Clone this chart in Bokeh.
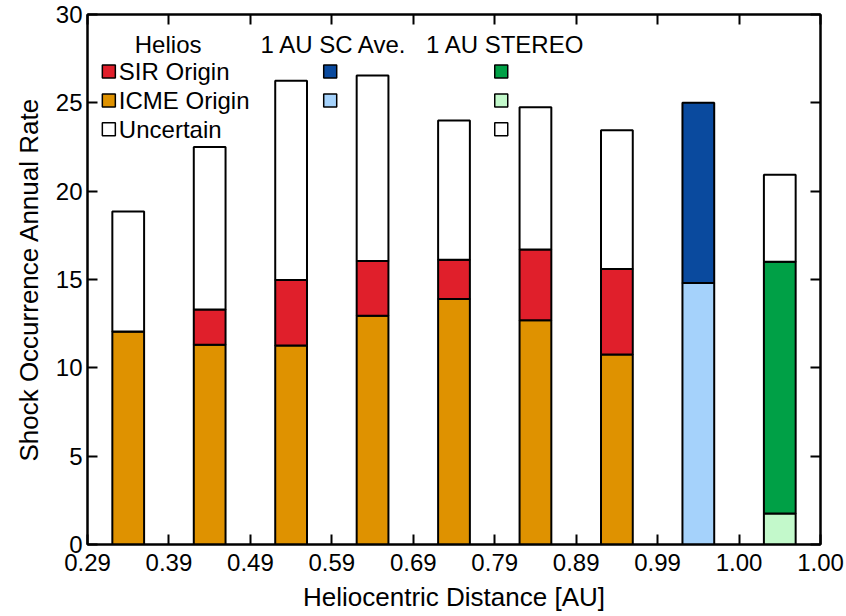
from bokeh.plotting import figure
from bokeh.models import FixedTicker, LinearAxis, Range1d, Label, ColumnDataSource
from bokeh.embed import file_html
from bokeh.resources import INLINE

# ---- data ----
tick_labels = ["0.29", "0.39", "0.49", "0.59", "0.69", "0.79", "0.89", "0.99", "1.00", "1.00"]
helios_icme = [12.05, 11.30, 11.27, 12.95, 13.90, 12.70, 10.75]
helios_sir = [0.00, 2.00, 3.70, 3.10, 2.22, 4.00, 4.85]
helios_unc = [6.80, 9.20, 11.28, 10.50, 7.88, 8.05, 7.85]
sc_icme = [14.80]
sc_sir = [10.20]
stereo_icme = [1.75]
stereo_sir = [14.25]
stereo_unc = [4.93]

RED = "#E01F2B"
ORANGE = "#DF9200"
DBLUE = "#0A4A9E"
LBLUE = "#A5D2FB"
GREEN = "#00A046"
LGREEN = "#C3F9CB"
FONT = "Liberation Sans"
LEG_FS = "24px"
AX_FS = "26px"

n_h = len(helios_icme)
x_helios = [i + 0.5 for i in range(n_h)]
x_sc = [n_h + 0.5]
x_st = [n_h + 1.5]

p = figure(width=846, height=616, output_backend="svg", toolbar_location=None,
           x_range=Range1d(0, len(tick_labels) - 1), y_range=Range1d(0, 30),
           min_border_left=87, min_border_right=26, min_border_top=14, min_border_bottom=72)
p.grid.visible = False
p.outline_line_color = "black"
p.outline_line_width = 2
p.background_fill_color = "white"
p.border_fill_color = "white"

BW = 0.39
src_h = ColumnDataSource(dict(x=x_helios, icme=helios_icme, sir=helios_sir, unc=helios_unc))
p.vbar_stack(["icme", "sir", "unc"], x="x", width=BW, source=src_h,
             fill_color=[ORANGE, RED, "white"], line_color="black", line_width=2)
src_sc = ColumnDataSource(dict(x=x_sc, icme=sc_icme, sir=sc_sir))
p.vbar_stack(["icme", "sir"], x="x", width=BW, source=src_sc,
             fill_color=[LBLUE, DBLUE], line_color="black", line_width=2)
src_st = ColumnDataSource(dict(x=x_st, icme=stereo_icme, sir=stereo_sir, unc=stereo_unc))
p.vbar_stack(["icme", "sir", "unc"], x="x", width=BW, source=src_st,
             fill_color=[LGREEN, GREEN, "white"], line_color="black", line_width=2)

# ---- axes ----
xticks = list(range(len(tick_labels)))
yticks = [0, 5, 10, 15, 20, 25, 30]
p.xaxis.ticker = FixedTicker(ticks=xticks)
p.xaxis.major_label_overrides = {i: t for i, t in enumerate(tick_labels)}
p.yaxis.ticker = FixedTicker(ticks=yticks)
p.xaxis.axis_label = "Heliocentric Distance [AU]"
p.yaxis.axis_label = "Shock Occurrence Annual Rate"
for ax in (p.xaxis[0], p.yaxis[0]):
    ax.axis_line_width = 2
    ax.major_tick_line_width = 2
    ax.major_tick_in = 10
    ax.major_tick_out = 0
    ax.minor_tick_line_color = None
    ax.major_label_text_font = FONT
    ax.major_label_text_font_size = "24px"
    ax.major_label_text_color = "black"
    ax.axis_label_text_font = FONT
    ax.axis_label_text_font_size = AX_FS
    ax.axis_label_text_font_style = "normal"
    ax.axis_label_text_color = "black"
p.xaxis.major_label_standoff = 9
p.xaxis.axis_label_standoff = 8
p.yaxis.major_label_standoff = 5
p.yaxis.axis_label_standoff = 9

# tick-only frame axes (top and right), labels blanked
top = LinearAxis(ticker=FixedTicker(ticks=xticks),
                 major_label_overrides={i: "" for i in xticks})
right = LinearAxis(ticker=FixedTicker(ticks=yticks),
                   major_label_overrides={v: "" for v in yticks})
for ax in (top, right):
    ax.axis_line_width = 2
    ax.major_tick_line_width = 2
    ax.major_tick_in = 10
    ax.major_tick_out = 0
    ax.minor_tick_line_color = None
    ax.major_label_text_font_size = "1px"
    ax.major_label_standoff = 0
p.add_layout(top, "above")
p.add_layout(right, "right")

# ---- custom legend ----
headers = ["Helios", "1 AU SC Ave.", "1 AU STEREO"]
header_x = [0.99, 3.03, 5.13]
for t, hx in zip(headers, header_x):
    p.add_layout(Label(x=hx, y=28.3, text=t, text_align="center", text_baseline="middle",
                       text_font=FONT, text_font_size=LEG_FS, text_color="black"))

row_names = ["SIR Origin", "ICME Origin", "Uncertain"]
row_y = [26.77, 25.13, 23.5]
for t, ry in zip(row_names, row_y):
    p.add_layout(Label(x=0.385, y=ry, text=t, text_align="left", text_baseline="middle",
                       text_font=FONT, text_font_size=LEG_FS, text_color="black"))

p.scatter(x=[0.262] * 3, y=row_y, marker="square", size=13,
          fill_color=[RED, ORANGE, "white"], line_color="black", line_width=1.5)
p.scatter(x=[2.98] * 2, y=row_y[:2], marker="square", size=13,
          fill_color=[DBLUE, LBLUE], line_color="black", line_width=1.5)
p.scatter(x=[5.08] * 3, y=row_y, marker="square", size=13,
          fill_color=[GREEN, LGREEN, "white"], line_color="black", line_width=1.5)

open("out.html", "w").write(file_html(p, INLINE))
